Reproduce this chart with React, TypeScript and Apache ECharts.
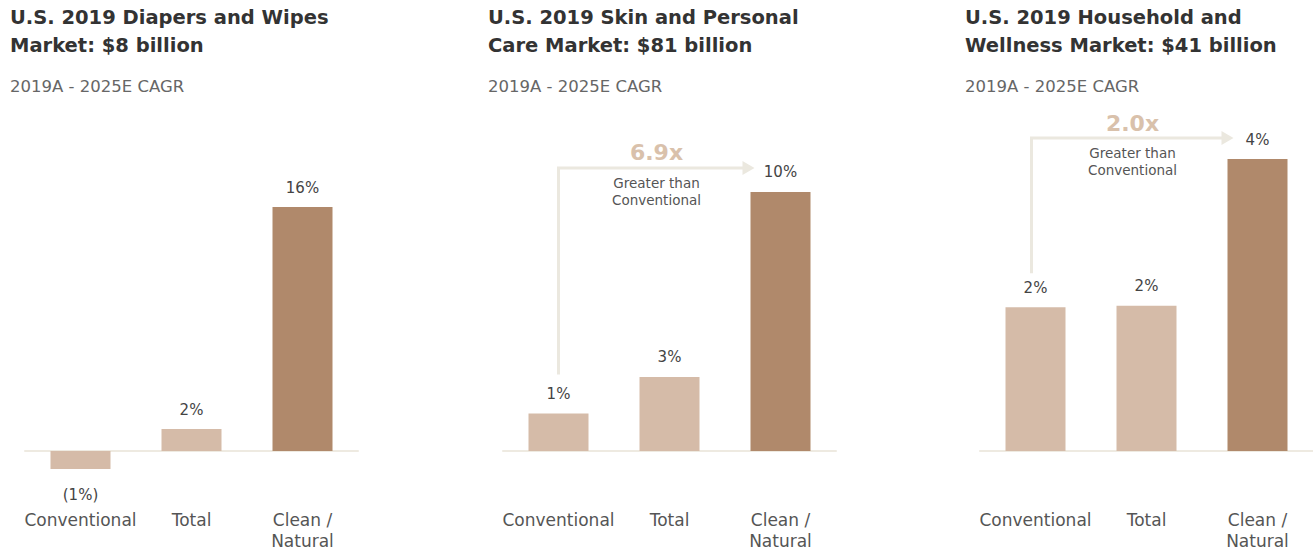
import React, { useEffect, useRef } from "react";
import * as echarts from "echarts";

// ---- data ----
const categories = ["Conventional", "Total", "Clean /\nNatural"];
const panelTitles = [
  "U.S. 2019 Diapers and Wipes\nMarket: $8 billion",
  "U.S. 2019 Skin and Personal\nCare Market: $81 billion",
  "U.S. 2019 Household and\nWellness Market: $41 billion",
];
const subtitle = "2019A - 2025E CAGR";
const diapersValues = [-1.18, 1.44, 16.0];
const diapersLabels = ["(1%)", "2%", "16%"];
const skinValues = [1.45, 2.86, 10.0];
const skinLabels = ["1%", "3%", "10%"];
const householdValues = [1.97, 1.99, 4.0];
const householdLabels = ["2%", "2%", "4%"];
const multipliers = ["", "6.9x", "2.0x"];
const multiplierNote = "Greater than\nConventional";

const panelValues = [diapersValues, skinValues, householdValues];
const panelLabels = [diapersLabels, skinLabels, householdLabels];

// ---- layout / style ----
const FONT = "'DejaVu Sans', sans-serif";
const LIGHT = "#d5bba8";
const DARK = "#b0896b";
const AXIS = "#eeeae1";
const ARROW = "#ebe8df";
const gridLefts = [25, 503, 980];
const titleLefts = [10, 488, 965];
const gridWidth = 333;
const gridTop = 100;
const gridHeight = 380;
const belowZero = 29; // px below zero line inside grid
const yMax = [23.02, 13.55, 4.81];
const arrowRise = [0, 24, 21];
const tipInset = [0, 26, 24];
const vShift = [0, 0, -4];
const vGap = [0, 39, 34];

export default function App() {
  const ref = useRef<HTMLDivElement>(null);
  useEffect(() => {
    document.body.style.margin = "0";
    if (!ref.current) return;
    const chart = echarts.init(ref.current, undefined, { renderer: "svg" });
    const titles: any[] = [];
    const grids: any[] = [];
    const xAxes: any[] = [];
    const yAxes: any[] = [];
    const series: any[] = [];
    for (let i = 0; i < 3; i++) {
      titles.push({
        text: panelTitles[i],
        left: titleLefts[i],
        top: 3,
        padding: 0,
        textStyle: { fontFamily: FONT, fontSize: 19.5, fontWeight: "bold", color: "#333", lineHeight: 28 },
      });
      titles.push({
        text: subtitle,
        left: titleLefts[i],
        top: 76,
        padding: 0,
        textStyle: { fontFamily: FONT, fontSize: 16.5, fontWeight: "normal", color: "#666", lineHeight: 20 },
      });
      grids.push({
        left: gridLefts[i],
        top: gridTop,
        width: gridWidth,
        height: gridHeight,
        containLabel: false,
        outerBoundsMode: "none",
      });
      xAxes.push({
        type: "category",
        gridIndex: i,
        data: categories,
        axisLine: { show: true, onZero: true, lineStyle: { color: AXIS, width: 2 } },
        axisTick: { show: false },
        axisLabel: {
          interval: 0,
          margin: 29.5,
          fontFamily: FONT,
          fontSize: 17,
          lineHeight: 21,
          color: "#555",
        },
      });
      const mn = -yMax[i] * (belowZero / (gridHeight - belowZero));
      yAxes.push({ type: "value", gridIndex: i, min: mn, max: yMax[i], show: false, splitLine: { show: false } });
      const labels = panelLabels[i];
      series.push({
        type: "bar",
        xAxisIndex: i,
        yAxisIndex: i,
        barWidth: 60,
        data: panelValues[i].map((v, j) => ({
          value: v,
          itemStyle: { color: j === 2 ? DARK : LIGHT },
          label: v < 0 ? { distance: 19 } : undefined,
        })),
        label: {
          show: true,
          position: "outside",
          distance: 12,
          fontFamily: FONT,
          fontSize: 15,
          color: "#444",
          formatter: (p: any) => labels[p.dataIndex],
        },
      });
    }
    chart.setOption({
      animation: false,
      backgroundColor: "#ffffff",
      title: titles,
      grid: grids,
      xAxis: xAxes,
      yAxis: yAxes,
      series,
    });

    const graphics: any[] = [];
    for (let i = 1; i < 3; i++) {
      const vals = panelValues[i];
      const c = chart.convertToPixel({ gridIndex: i } as any, [0, vals[0]]) as number[];
      const k = chart.convertToPixel({ gridIndex: i } as any, [2, vals[2]]) as number[];
      const vx = c[0] + vShift[i];
      const by = c[1] - vGap[i];
      const hy = k[1] - arrowRise[i];
      const tipX = k[0] - tipInset[i];
      graphics.push({
        type: "polyline",
        shape: { points: [[vx, by], [vx, hy], [tipX - 8, hy]] },
        style: { stroke: ARROW, lineWidth: 3, fill: null },
      });
      graphics.push({
        type: "polygon",
        shape: { points: [[tipX, hy], [tipX - 12, hy - 7], [tipX - 12, hy + 7]] },
        style: { fill: ARROW },
      });
      const mid = (vx + tipX) / 2;
      graphics.push({
        type: "text",
        x: mid,
        y: hy - 15,
        style: {
          text: multipliers[i],
          fontFamily: FONT,
          fontSize: 22,
          fontWeight: "bold",
          fill: "#d9c1ab",
          align: "center",
          verticalAlign: "middle",
        },
      });
      graphics.push({
        type: "text",
        x: mid,
        y: hy + 23.5,
        style: {
          text: multiplierNote,
          fontFamily: FONT,
          fontSize: 13.5,
          lineHeight: 17,
          fill: "#555",
          align: "center",
          verticalAlign: "middle",
        },
      });
    }
    chart.setOption({ graphic: graphics });
    return () => chart.dispose();
  }, []);
  return <div ref={ref} style={{ width: 1313, height: 551 }} />;
}
